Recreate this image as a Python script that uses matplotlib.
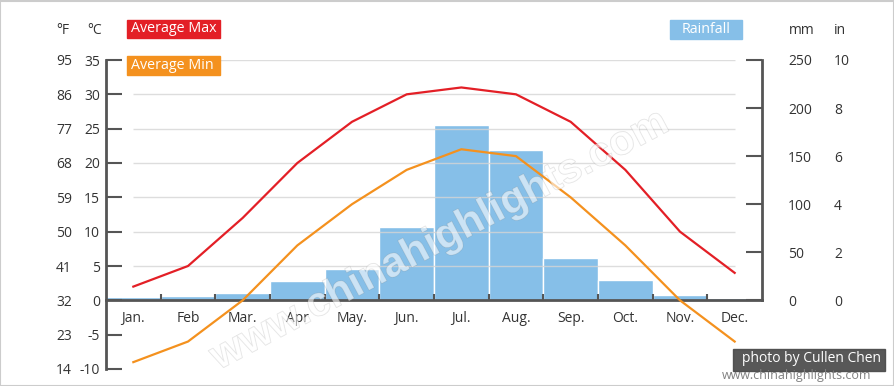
import matplotlib
matplotlib.use('Agg')
import matplotlib.pyplot as plt
import matplotlib.patheffects as pe
from matplotlib.patches import Rectangle

# --- DATA ---
months = ['Jan.', 'Feb', 'Mar.', 'Apr', 'May.', 'Jun.', 'Jul.', 'Aug.', 'Sep.', 'Oct.', 'Nov.', 'Dec.']
avg_max_c = [2, 5, 12, 20, 26, 30, 31, 30, 26, 19, 10, 4]
avg_min_c = [-9, -6, 0, 8, 14, 19, 22, 21, 15, 8, 0, -6]
rain_mm = [3, 5, 8, 20, 33, 76, 182, 156, 44, 21, 6, 2]

temp_c_ticks = [-10, -5, 0, 5, 10, 15, 20, 25, 30, 35]
temp_f_ticks = [14, 23, 32, 41, 50, 59, 68, 77, 86, 95]
rain_mm_ticks = [0, 50, 100, 150, 200, 250]
rain_in_ticks = [0, 2, 4, 6, 8, 10]

# --- STYLE ---
RED = '#e31f26'
ORANGE = '#f4911e'
BLUE = '#86bfe8'
AXIS = '#555555'
TXT = '#333333'
W, H = 895, 386

plt.rcParams['font.family'] = ['Open Sans', 'DejaVu Sans']
plt.rcParams['font.size'] = 10


def px(x, y):
    # pixel position (from top-left) -> figure fraction
    return x / W, 1 - y / H


fig = plt.figure(figsize=(W / 100, H / 100), dpi=100)
ax = fig.add_axes([106 / W, (H - 369) / H, 656 / W, 309 / H])
ax.set_xlim(0, 12)
ax.set_ylim(-10, 35)

# rainfall on the twin axis, same pixel scale as temperature
ax2 = ax.twinx()
ax2.set_ylim(-250 * 10 / 35, 250)
xs = [i + 0.5 for i in range(len(months))]
ax2.bar(xs, rain_mm, width=1.0, color=BLUE, edgecolor='white', linewidth=1)

# keep temperature lines above the bars
ax.set_zorder(ax2.get_zorder() + 1)
ax.patch.set_visible(False)

ax.hlines(temp_c_ticks[3:], xs[0], xs[-1], color='#d5d5d5', linewidth=1, alpha=0.8, zorder=1)
ax.plot(xs, avg_max_c, color=RED, linewidth=1.6, zorder=3)
ax.plot(xs, avg_min_c, color=ORANGE, linewidth=1.6, zorder=3)

# spines
for s in ['top', 'right']:
    ax.spines[s].set_visible(False)
ax.spines['left'].set_color(AXIS)
ax.spines['left'].set_linewidth(2)
ax.spines['bottom'].set_position(('data', 0))
ax.spines['bottom'].set_color(AXIS)
ax.spines['bottom'].set_linewidth(2)
for s in ['top', 'left', 'bottom']:
    ax2.spines[s].set_visible(False)
ax2.spines['right'].set_bounds(0, 250)
ax2.spines['right'].set_color(AXIS)
ax2.spines['right'].set_linewidth(2)

# x axis
ax.set_xticks(xs, labels=months)
ax.set_xticks(range(1, 12), minor=True)
ax.tick_params(axis='x', which='major', length=0, pad=8, labelcolor=TXT, labelsize=10)
ax.tick_params(axis='x', which='minor', direction='in', length=4.5, width=1.5, color=AXIS)

# celsius
ax.set_yticks(temp_c_ticks, labels=[str(v) for v in temp_c_ticks])
ax.tick_params(axis='y', direction='in', length=11.5, width=1.5, color=AXIS,
               pad=4.3, labelcolor=TXT, labelsize=10)

# fahrenheit column
secf = ax.secondary_yaxis(-34 / 656, functions=(lambda c: c * 1.8 + 32, lambda f: (f - 32) / 1.8))
secf.set_yticks(temp_f_ticks, labels=[str(v) for v in temp_f_ticks])
secf.tick_params(length=0, pad=0, labelcolor=TXT, labelsize=10)
for s in secf.spines.values():
    s.set_visible(False)

# mm
ax2.set_yticks(rain_mm_ticks, labels=[str(v) for v in rain_mm_ticks])
ax2.tick_params(axis='y', direction='in', length=11.5, width=1.5, color=AXIS,
                pad=18.7, labelcolor=TXT, labelsize=10)

# inches column
seci = ax2.secondary_yaxis(1 + 72 / 656, functions=(lambda mm: mm / 25, lambda i: i * 25))
seci.set_yticks(rain_in_ticks, labels=[str(v) for v in rain_in_ticks])
seci.tick_params(length=0, pad=0, labelcolor=TXT, labelsize=10)
for s in seci.spines.values():
    s.set_visible(False)

# unit headers
fig.text(*px(56, 30), '°F', color=TXT, va='center', ha='left')
fig.text(*px(87, 30), '°C', color=TXT, va='center', ha='left')
fig.text(*px(789, 30), 'mm', color=TXT, va='center', ha='left')
fig.text(*px(834, 30), 'in', color=TXT, va='center', ha='left')

# legend boxes
def label_box(x0, y0, x1, y1, color, text, tx):
    fig.patches.append(Rectangle(px(x0, y1), (x1 - x0) / W, (y1 - y0) / H,
                                 transform=fig.transFigure, color=color, zorder=5))
    fig.text(*px(tx, (y0 + y1) / 2), text, color='white', va='center', ha='left',
             fontsize=10.3, zorder=6)

label_box(127, 20, 220, 38, RED, 'Average Max', 131)
label_box(127, 56, 220, 75, ORANGE, 'Average Min', 131)
label_box(670, 20, 742, 39, BLUE, 'Rainfall', 682)

# watermark (hollow outline)
fig.text(*px(440, 240), 'www.chinahighlights.com', rotation=28, fontsize=30,
         fontweight='bold', family='Liberation Sans', ha='center', va='center',
         color=(1, 1, 1, 0.35), zorder=7,
         path_effects=[pe.withStroke(linewidth=0.7, foreground=(0.5, 0.5, 0.5, 0.22))])

# credit
fig.patches.append(Rectangle(px(733, 371), 152 / W, 22 / H, transform=fig.transFigure,
                             color='#4a4a4a', alpha=0.92, zorder=8))
fig.text(*px(742, 358), 'photo by Cullen Chen', color='white', va='center', ha='left',
         fontsize=10, zorder=9)
fig.text(*px(722, 375), 'www.chinahighlights.com', color='#808080', va='center', ha='left',
         fontsize=9, zorder=9)

# frame
fig.patches.append(Rectangle((0.5 / W, 0.5 / H), 1 - 1.5 / W, 1 - 1.5 / H, transform=fig.transFigure,
                             fill=False, edgecolor='#cccccc', linewidth=1.5, zorder=10))

fig.savefig('out.png', dpi=100)
